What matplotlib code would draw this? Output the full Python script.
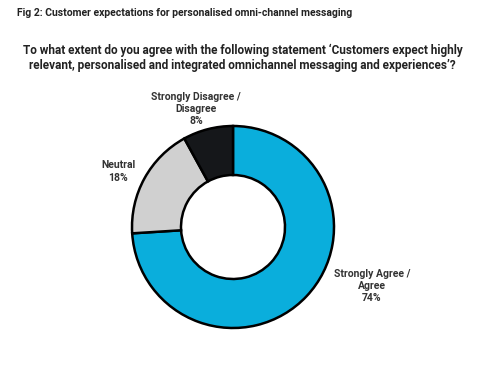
import matplotlib.pyplot as plt

# Datos del grafico
categorias = ['Strongly Agree /\nAgree', 'Neutral', 'Strongly Disagree /\nDisagree']
valores = [74, 18, 8]
colores = ['#0aaedc', '#d0d0d0', '#15171a']

plt.rcParams['font.family'] = ['Roboto', 'DejaVu Sans']

fig = plt.figure(figsize=(5, 3.66), dpi=100)
ax = fig.add_axes([0, 0, 1, 1])
ax.set_xlim(0, 500)
ax.set_ylim(0, 366)
ax.set_aspect('equal')
ax.axis('off')

# Donut, coordenadas en pixeles (y desde abajo)
ax.pie(valores, colors=colores, startangle=90, counterclock=False,
       center=(233, 139), radius=101,
       wedgeprops=dict(width=49, edgecolor='black', linewidth=1.8))
ax.set_xlim(0, 500)
ax.set_ylim(0, 366)

fig.text(0.034, 0.965, 'Fig 2: Customer expectations for personalised omni-channel messaging',
         fontsize=7.5, fontweight='bold', color='#222222', va='center', ha='left')
fig.text(0.485, 0.843,
         "To what extent do you agree with the following statement \u2018Customers expect highly\n"
         "relevant, personalised and integrated omnichannel messaging and experiences\u2019?",
         fontsize=8.5, fontweight='bold', color='#222222', ha='center', va='center',
         linespacing=1.2)

# Etiquetas
posiciones = [(372, 366 - 286), (118, 366 - 171.5), (196, 366 - 109)]
for cat, val, (x, y) in zip(categorias, valores, posiciones):
    ax.text(x, y, f'{cat}\n{val}%', ha='center', va='center', fontsize=7.5,
            fontweight='bold', color='#333333', linespacing=1.3)

fig.savefig('out.png', dpi=100)
